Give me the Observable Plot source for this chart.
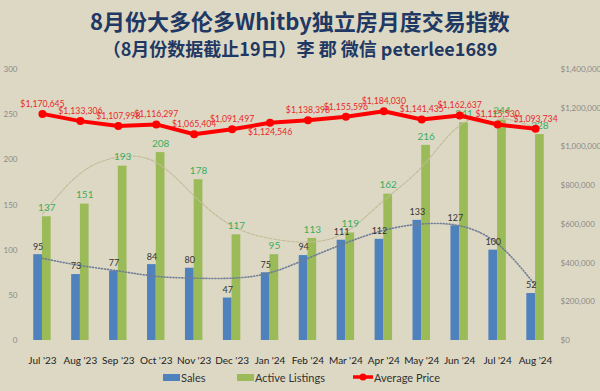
<!DOCTYPE html>
<html>
<head>
<meta charset="utf-8">
<script src="https://cdn.jsdelivr.net/npm/d3@7"></script>
<script src="https://cdn.jsdelivr.net/npm/@observablehq/plot@0.6"></script>
<style>
  html, body { margin: 0; padding: 0; }
  body { width: 600px; height: 391px; background: #DDD8C3; overflow: hidden; font-family: Lato, "Liberation Sans", sans-serif; }
  #head { height: 62px; position: relative; text-align: center; font-family: "Noto Sans CJK SC", sans-serif; font-weight: bold; color: #1F3864; }
  #t1 { position: absolute; left: 0; right: 0; top: 7px; font-size: 22px; line-height: 26px; }
  #t2 { position: absolute; left: 0; right: 0; top: 36px; font-size: 18px; line-height: 24px; }
  #chart svg { display: block; }
  #legend { position: relative; height: 24px; font-size: 11px; color: #333; }
  .lg { position: absolute; top: 3px; display: flex; align-items: center; height: 14px; }
  .sw { width: 17px; height: 7px; margin-right: 1px; }
</style>
</head>
<body>
<div id="head">
  <div id="t1">8月份大多伦多Whitby独立房月度交易指数</div>
  <div id="t2">（8月份数据截止19日）李 郡 微信 peterlee1689</div>
</div>
<div id="chart"></div>
<div id="legend">
  <div class="lg" style="left:163px"><div class="sw" style="background:#4F81BD"></div>Sales</div>
  <div class="lg" style="left:237px"><div class="sw" style="background:#9BBB59"></div>Active Listings</div>
  <div class="lg" style="left:353px">
    <svg width="20" height="10" style="margin-right:1px"><line x1="0" y1="5" x2="20" y2="5" stroke="#FF0000" stroke-width="3.5"/><circle cx="10" cy="5" r="3.5" fill="#FF0000"/></svg>Average Price</div>
</div>
<script>
const months = ["Jul '23","Aug '23","Sep '23","Oct '23","Nov '23","Dec '23","Jan '24","Feb '24","Mar '24","Apr '24","May '24","Jun '24","Jul '24","Aug '24"];
const sales = [95,73,77,84,80,47,75,94,111,112,133,127,100,52];
const listings = [137,151,193,208,178,117,95,113,119,162,216,241,244,228];
const prices = [1170645,1133306,1107998,1116297,1065404,1091497,1124546,1138398,1155596,1184030,1141435,1162637,1115530,1093734];
// trend lines
const salesTrend = [91,83,77,71,69,69,75,91,108,122,129,127,107,61];
const listingsTrend = [140,185,203,197,160,127,113,109,120,155,192,238,247,236];
const leftTicks = [0,50,100,150,200,250,300];
const rightTicks = [0,200000,400000,600000,800000,1000000,1200000,1400000];

const LEFT_MAX = 300, RIGHT_MAX = 1400000;
const p2y = p => p * LEFT_MAX / RIGHT_MAX;
const fmt = d3.format(",");

const data = months.map((m, i) => ({
  i, m, sales: sales[i], listings: listings[i], price: prices[i],
  st: salesTrend[i], lt: listingsTrend[i]
}));
const W = 0.23;

const chart = Plot.plot({
  width: 600, height: 305,
  marginTop: 7, marginBottom: 27, marginLeft: 23, marginRight: 46,
  style: { background: "transparent", fontFamily: "Lato, 'Liberation Sans', sans-serif", fontSize: "8px", overflow: "visible" },
  x: { domain: [-0.5, 13.5] },
  y: { domain: [0, LEFT_MAX] },
  marks: [
    Plot.axisY(leftTicks, { anchor: "left", tickSize: 0, tickPadding: 6, fill: "#8a8a8a", fontSize: 8, label: null }),
    Plot.axisY(rightTicks.map(p2y), { anchor: "right", tickSize: 0, tickPadding: 6, fill: "#8a8a8a", fontSize: 8, label: null,
      tickFormat: v => "$" + fmt(Math.round(v * RIGHT_MAX / LEFT_MAX)) }),
    Plot.axisX(d3.range(months.length), { anchor: "bottom", tickSize: 0, tickPadding: 16, fill: "#222", fontSize: 10, label: null,
      tickFormat: i => months[i] }),
    Plot.rectY(data, { x1: d => d.i - W, x2: d => d.i, y: "sales", fill: "#4F81BD", inset: 0 }),
    Plot.rectY(data, { x1: d => d.i, x2: d => d.i + W, y: "listings", fill: "#9BBB59", inset: 0 }),
    Plot.line(data, { x: "i", y: "lt", curve: "natural", stroke: "#C2BB98", strokeWidth: 1.1, strokeDasharray: "3,1.5" }),
    Plot.line(data, { x: "i", y: "st", curve: "natural", stroke: "#6E7C98", strokeWidth: 1.6, strokeDasharray: "1,2" }),
    Plot.text(data, { x: d => d.i - W / 2, y: "sales", text: d => String(d.sales), dy: -8, fill: "#333", fontSize: 9 }),
    Plot.text(data, { x: d => d.i + W / 2, y: "listings", text: d => String(d.listings), dy: -9, fill: "#3AAE5E", fontSize: 10 }),
    Plot.line(data, { x: "i", y: d => p2y(d.price), stroke: "#FF0000", strokeWidth: 4 }),
    Plot.dot(data, { x: "i", y: d => p2y(d.price), r: 4, fill: "#FF0000" }),
    Plot.text(data.filter(d => d.i !== 6), { x: "i", y: d => p2y(d.price), text: d => "$" + fmt(d.price), dy: -10, fill: "#E8282A", fontSize: 8.7 }),
    Plot.text(data.filter(d => d.i === 6), { x: "i", y: d => p2y(d.price), text: d => "$" + fmt(d.price), dy: 9, fill: "#E8282A", fontSize: 8.7 })
  ]
});
document.getElementById("chart").appendChild(chart);
</script>
</body>
</html>
